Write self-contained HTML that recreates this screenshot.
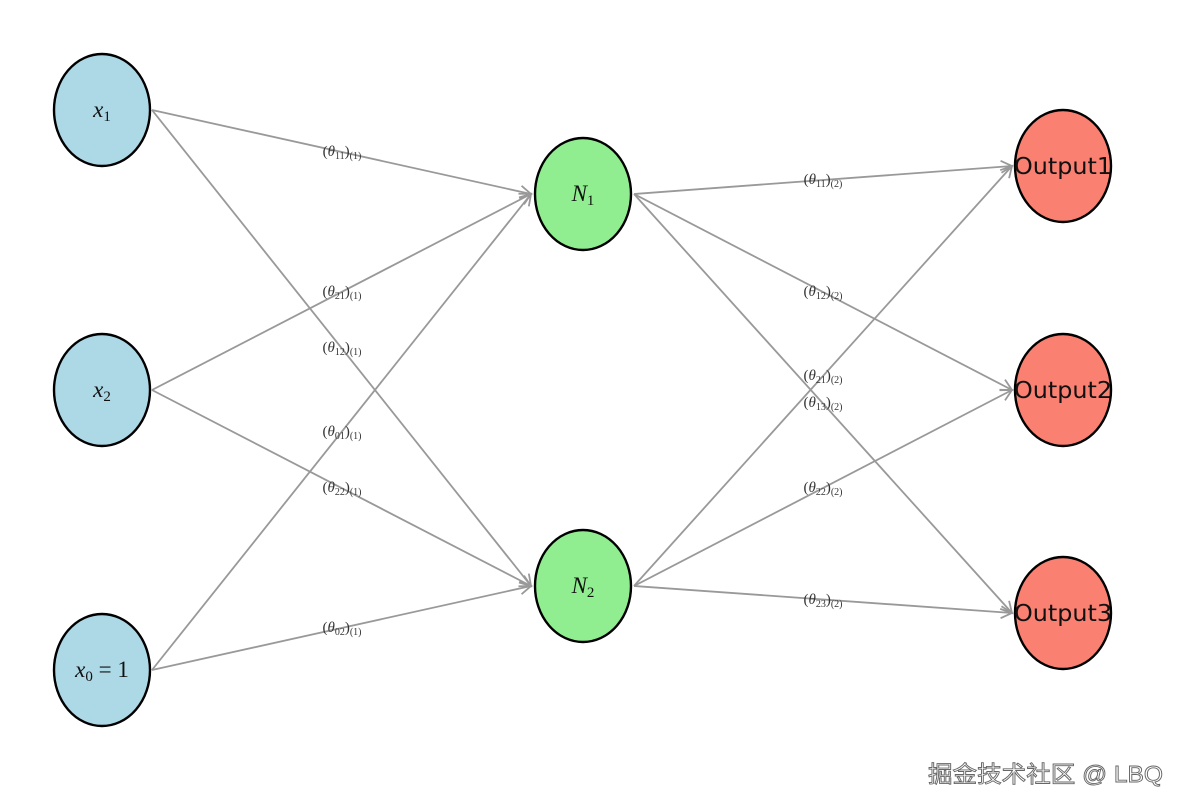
<!DOCTYPE html>
<html><head><meta charset="utf-8"><style>
body{margin:0;background:#fff;width:1186px;height:811px;overflow:hidden}
svg{display:block}
.l{font-family:"Liberation Serif",serif;font-size:15px;fill:#333;text-anchor:middle}
.n{font-family:"Liberation Serif",serif;font-size:23px;font-style:italic;text-anchor:middle;fill:#111}
.o{font-family:"DejaVu Sans","Liberation Sans",sans-serif;font-size:23px;text-anchor:middle;fill:#111}
</style></head><body>
<svg width="1186" height="811" viewBox="0 0 1186 811">
<defs><marker id="a" markerWidth="14" markerHeight="14" refX="12" refY="7" orient="auto" markerUnits="userSpaceOnUse">
<path d="M1,1 L12,7 L1,13" fill="none" stroke="#999" stroke-width="1.8"/></marker></defs>
<g stroke="#999" stroke-width="1.8" fill="none" marker-end="url(#a)">
<line x1="152" y1="110" x2="531" y2="194"/>
<line x1="152" y1="110" x2="531" y2="586"/>
<line x1="152" y1="390" x2="531" y2="194"/>
<line x1="152" y1="390" x2="531" y2="586"/>
<line x1="152" y1="670" x2="531" y2="194"/>
<line x1="152" y1="670" x2="531" y2="586"/>
<line x1="634" y1="194" x2="1012" y2="166"/>
<line x1="634" y1="194" x2="1012" y2="390"/>
<line x1="634" y1="194" x2="1012" y2="613"/>
<line x1="634" y1="586" x2="1012" y2="166"/>
<line x1="634" y1="586" x2="1012" y2="390"/>
<line x1="634" y1="586" x2="1012" y2="613"/>
</g>
<g stroke="#000" stroke-width="2.4">
<ellipse cx="102" cy="110" rx="48" ry="56" fill="#add8e6"/>
<ellipse cx="102" cy="390" rx="48" ry="56" fill="#add8e6"/>
<ellipse cx="102" cy="670" rx="48" ry="56" fill="#add8e6"/>
<ellipse cx="583" cy="194" rx="48" ry="56" fill="#90ee90"/>
<ellipse cx="583" cy="586" rx="48" ry="56" fill="#90ee90"/>
<ellipse cx="1063" cy="166" rx="48" ry="56" fill="#fa8072"/>
<ellipse cx="1063" cy="390" rx="48" ry="56" fill="#fa8072"/>
<ellipse cx="1063" cy="613" rx="48" ry="56" fill="#fa8072"/>
</g>
<text class="n" x="102" y="117">x<tspan font-size="15" dy="4" font-style="normal">1</tspan></text>
<text class="n" x="102" y="397">x<tspan font-size="15" dy="4" font-style="normal">2</tspan></text>
<text class="n" x="102" y="677">x<tspan font-size="15" dy="4" font-style="normal">0</tspan><tspan dy="-4" font-style="normal"> = 1</tspan></text>
<text class="n" x="583" y="201">N<tspan font-size="15" dy="4" font-style="normal">1</tspan></text>
<text class="n" x="583" y="593">N<tspan font-size="15" dy="4" font-style="normal">2</tspan></text>
<text class="o" x="1063" y="174" textLength="98" lengthAdjust="spacingAndGlyphs">Output1</text>
<text class="o" x="1063" y="398" textLength="98" lengthAdjust="spacingAndGlyphs">Output2</text>
<text class="o" x="1063" y="621" textLength="98" lengthAdjust="spacingAndGlyphs">Output3</text>
<g class="l">
<text x="342" y="156">(<tspan font-style="italic">θ</tspan><tspan font-size="10" dy="3">11</tspan><tspan dy="-3">)</tspan><tspan font-size="10" dy="3">(1)</tspan></text>
<text x="342" y="296">(<tspan font-style="italic">θ</tspan><tspan font-size="10" dy="3">21</tspan><tspan dy="-3">)</tspan><tspan font-size="10" dy="3">(1)</tspan></text>
<text x="342" y="352">(<tspan font-style="italic">θ</tspan><tspan font-size="10" dy="3">12</tspan><tspan dy="-3">)</tspan><tspan font-size="10" dy="3">(1)</tspan></text>
<text x="342" y="436">(<tspan font-style="italic">θ</tspan><tspan font-size="10" dy="3">01</tspan><tspan dy="-3">)</tspan><tspan font-size="10" dy="3">(1)</tspan></text>
<text x="342" y="492">(<tspan font-style="italic">θ</tspan><tspan font-size="10" dy="3">22</tspan><tspan dy="-3">)</tspan><tspan font-size="10" dy="3">(1)</tspan></text>
<text x="342" y="632">(<tspan font-style="italic">θ</tspan><tspan font-size="10" dy="3">02</tspan><tspan dy="-3">)</tspan><tspan font-size="10" dy="3">(1)</tspan></text>
<text x="823" y="184">(<tspan font-style="italic">θ</tspan><tspan font-size="10" dy="3">11</tspan><tspan dy="-3">)</tspan><tspan font-size="10" dy="3">(2)</tspan></text>
<text x="823" y="296">(<tspan font-style="italic">θ</tspan><tspan font-size="10" dy="3">12</tspan><tspan dy="-3">)</tspan><tspan font-size="10" dy="3">(2)</tspan></text>
<text x="823" y="380">(<tspan font-style="italic">θ</tspan><tspan font-size="10" dy="3">21</tspan><tspan dy="-3">)</tspan><tspan font-size="10" dy="3">(2)</tspan></text>
<text x="823" y="407">(<tspan font-style="italic">θ</tspan><tspan font-size="10" dy="3">13</tspan><tspan dy="-3">)</tspan><tspan font-size="10" dy="3">(2)</tspan></text>
<text x="823" y="492">(<tspan font-style="italic">θ</tspan><tspan font-size="10" dy="3">22</tspan><tspan dy="-3">)</tspan><tspan font-size="10" dy="3">(2)</tspan></text>
<text x="823" y="604">(<tspan font-style="italic">θ</tspan><tspan font-size="10" dy="3">23</tspan><tspan dy="-3">)</tspan><tspan font-size="10" dy="3">(2)</tspan></text>
</g>
<text x="1163" y="782" text-anchor="end" textLength="235" lengthAdjust="spacingAndGlyphs" font-family="'Liberation Sans','Noto Sans CJK SC',sans-serif" font-size="23" fill="#fff" stroke="#666" stroke-width="0.9">掘金技术社区 @ LBQ</text>
</svg>
</body></html>
